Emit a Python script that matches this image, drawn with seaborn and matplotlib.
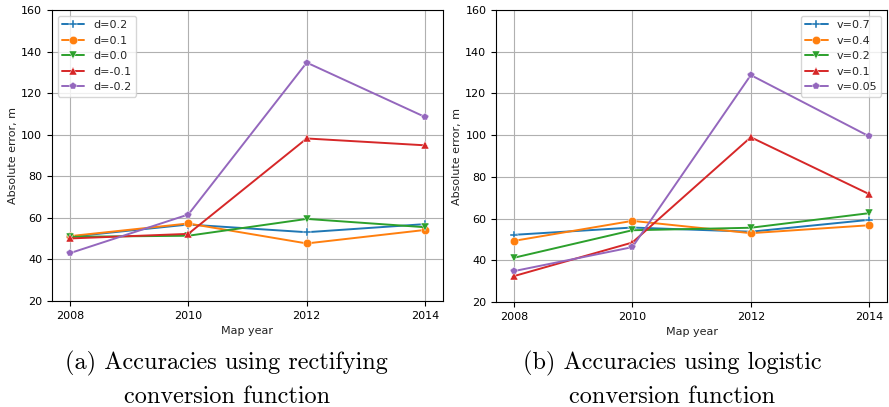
import matplotlib
matplotlib.use("Agg")
import matplotlib.pyplot as plt
import seaborn as sns
import pandas as pd

years = [2008, 2010, 2012, 2014]

d_labels = ["d=0.2", "d=0.1", "d=0.0", "d=-0.1", "d=-0.2"]
d_values = [
    [50.9, 56.8, 53.1, 57.0],
    [51.2, 57.3, 47.7, 54.2],
    [50.9, 51.4, 59.5, 55.5],
    [50.1, 52.3, 98.2, 94.9],
    [43.0, 61.6, 134.7, 108.5],
]

v_labels = ["v=0.7", "v=0.4", "v=0.2", "v=0.1", "v=0.05"]
v_values = [
    [52.2, 55.7, 53.7, 59.4],
    [49.3, 58.9, 53.0, 56.8],
    [41.2, 54.4, 55.6, 62.6],
    [32.4, 48.5, 99.0, 71.7],
    [34.8, 46.3, 128.8, 99.4],
]

captions = [["(a) Accuracies using rectifying", "conversion function"],
            ["(b) Accuracies using logistic", "conversion function"]]

sns.set_style("ticks")
plt.rcParams["font.family"] = ["DejaVu Sans"]

colors = ["#1f77b4", "#ff7f0e", "#2ca02c", "#d62728", "#9467bd"]
markers = ["P", "o", "v", "^", "p"]

fig = plt.figure(figsize=(8.89, 4.07), dpi=100)
ax1 = fig.add_axes([0.0585, 0.2604, 0.4398, 0.7150])
ax2 = fig.add_axes([0.558, 0.2580, 0.4398, 0.7174])


def draw(ax, labels, values, loc):
    rows = []
    for lab, vals in zip(labels, values):
        for y, v in zip(years, vals):
            rows.append({"year": y, "err": v, "series": lab})
    df = pd.DataFrame(rows)
    sns.lineplot(data=df, x="year", y="err", hue="series", style="series",
                 hue_order=labels, style_order=labels,
                 palette=dict(zip(labels, colors)),
                 markers=dict(zip(labels, markers)),
                 dashes=False, markersize=6, markeredgewidth=0.3,
                 linewidth=1.4, ax=ax)
    ax.set_ylim(20, 160)
    ax.set_xticks(years)
    ax.set_yticks(range(20, 161, 20))
    ax.grid(True, color="#b0b0b0", linewidth=0.8)
    ax.set_axisbelow(True)
    ax.tick_params(labelsize=8, length=3.5, width=0.8, colors="black")
    ax.set_xlabel("Map year", fontsize=8, color="#222222")
    ax.set_ylabel("Absolute error, m", fontsize=8, color="#222222", labelpad=2)
    for s in ax.spines.values():
        s.set_visible(True)
        s.set_color("black")
        s.set_linewidth(0.8)
    ax.legend(loc=loc, fontsize=8, frameon=True, framealpha=0.8,
              edgecolor="#cccccc", handlelength=2.0)


draw(ax1, d_labels, d_values, "upper left")
draw(ax2, v_labels, v_values, "upper right")

for cx, lines in zip([0.255, 0.756], captions):
    fig.text(cx, 0.0934, lines[0], ha="center", va="baseline",
             fontsize=17.5, family="cmr10", color="black")
    fig.text(cx, 0.0098, lines[1], ha="center", va="baseline",
             fontsize=17.5, family="cmr10", color="black")

fig.savefig("out.png", dpi=100)
